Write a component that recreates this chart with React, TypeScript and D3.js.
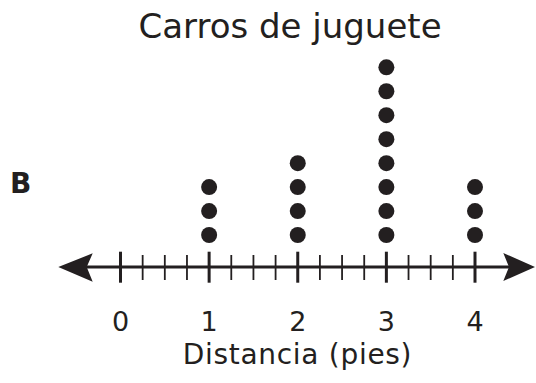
import React from "react";
import * as d3 from "d3";

const title = "Carros de juguete";
const axisLabel = "Distancia (pies)";
const panelLabel = "B";
const distances = [1, 2, 3, 4];
const counts = [3, 4, 8, 3];
const tickValues = [0, 1, 2, 3, 4];

const W = 536;
const H = 383;
const INK = "#231f20";

export default function App() {
  const x = d3.scaleLinear().domain([0, 4]).range([120.5, 475]);
  const axisY = 267;
  const stack = d3.scaleLinear().domain([0, 7]).range([235, 67.3]);
  const minorTicks = d3.range(0, 4.001, 0.25).filter((v) => Math.abs(v - Math.round(v)) > 1e-6);

  const dots: { v: number; i: number }[] = [];
  distances.forEach((v, k) => {
    for (let i = 0; i < counts[k]; i++) dots.push({ v, i });
  });

  const font = "'DejaVu Sans', Verdana, sans-serif";

  return (
    <svg
      width={W}
      height={H}
      viewBox={`0 0 ${W} ${H}`}
      style={{ position: "absolute", left: 0, top: 0, background: "#fff" }}
    >
      <rect width={W} height={H} fill="#fff" />
      <text x={290} y={38} textAnchor="middle" fontFamily={font} fontSize={34} fill={INK}>
        {title}
      </text>
      <text x={10} y={193} fontFamily={font} fontSize={28} fontWeight="bold" fill={INK}>
        {panelLabel}
      </text>

      {/* axis line */}
      <line x1={80} x2={515} y1={axisY} y2={axisY} stroke={INK} strokeWidth={3} />
      {/* arrowheads */}
      <path d={`M58.3,${axisY} L92.7,253.3 L86.7,${axisY} L92.7,281.7 Z`} fill={INK} />
      <path d={`M535,${axisY} L503.3,253 L509,${axisY} L503.3,281 Z`} fill={INK} />

      {minorTicks.map((v) => (
        <line key={"m" + v} x1={x(v)} x2={x(v)} y1={255} y2={280} stroke={INK} strokeWidth={1.8} />
      ))}
      {tickValues.map((v) => (
        <line key={"M" + v} x1={x(v)} x2={x(v)} y1={251.7} y2={282.7} stroke={INK} strokeWidth={3} />
      ))}
      {tickValues.map((v) => (
        <text key={"t" + v} x={x(v)} y={331} textAnchor="middle" fontFamily={font} fontSize={27} fill={INK}>
          {v}
        </text>
      ))}

      {dots.map((d) => (
        <circle key={d.v + "-" + d.i} cx={x(d.v)} cy={stack(d.i)} r={8} fill={INK} />
      ))}

      <text x={297.5} y={364} textAnchor="middle" fontFamily={font} fontSize={28} letterSpacing={0.7} fill={INK}>
        {axisLabel}
      </text>
    </svg>
  );
}
